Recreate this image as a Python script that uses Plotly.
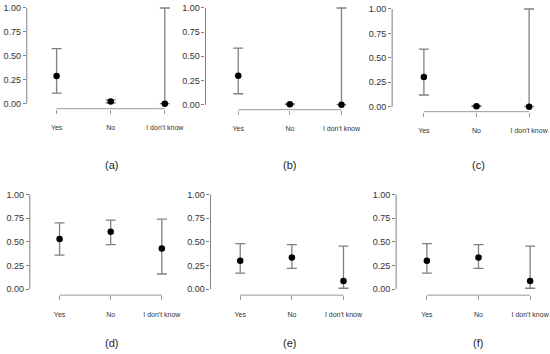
import plotly.graph_objects as go

categories = ["Yes", "No", "I don't know"]
panel_labels = ["(a)", "(b)", "(c)", "(d)", "(e)", "(f)"]

est_a = [0.29, 0.024, 0.0]
low_a = [0.11, 0.01, 0.0]
high_a = [0.576, 0.04, 1.0]

est_b = [0.30, 0.005, 0.0]
low_b = [0.113, 0.0, 0.0]
high_b = [0.585, 0.01, 1.0]

est_c = [0.305, 0.005, 0.0]
low_c = [0.12, 0.0, 0.0]
high_c = [0.59, 0.01, 1.0]

est_d = [0.53, 0.607, 0.43]
low_d = [0.36, 0.47, 0.16]
high_d = [0.70, 0.73, 0.74]

est_e = [0.30, 0.334, 0.087]
low_e = [0.17, 0.22, 0.01]
high_e = [0.48, 0.47, 0.455]

est_f = [0.30, 0.334, 0.087]
low_f = [0.17, 0.22, 0.01]
high_f = [0.48, 0.47, 0.455]

series = [(est_a, low_a, high_a), (est_b, low_b, high_b), (est_c, low_c, high_c),
          (est_d, low_d, high_d), (est_e, low_e, high_e), (est_f, low_f, high_f)]

W, H = 550, 354
# layout geometry (pixels): y-axis x, first cat x, last cat x, y=1 px, y=0 px, x-axis line px
geom = [
    (27, 57, 166, 7, 103, 108),
    (207, 240, 344, 7, 104, 109),
    (395, 427, 533, 8, 106, 111),
    (30, 60, 163, 194, 289, 295),
    (212, 242, 346, 194, 289, 295),
    (399, 430, 534, 194, 289, 295),
]
caption_pos = [(112, 164), (292, 164), (482, 164), (112, 343), (292, 343), (482, 343)]

fig = go.Figure()
shapes = []
annotations = []
axis_grey = "#9a9a9a"
font_fam = "Liberation Sans, Arial, sans-serif"

for i, ((est, lo, hi), (ax, x0, x2, y1, y0, xl)) in enumerate(zip(series, geom)):
    n = i + 1
    sfx = "" if n == 1 else str(n)
    sx = (x2 - x0) / 2.0
    sy = (y0 - y1)
    right_px = min(x2 + 0.3 * sx, W)
    xr0 = -(x0 - ax) / sx
    xr1 = 2 + (right_px - x2) / sx
    yr0 = -(xl - y0) / sy
    yr1 = 1.04
    dom_x = [ax / W, right_px / W]
    dom_y = [1 - xl / H, min(1.0, 1 - (y1 - 0.04 * sy) / H)]

    fig.add_trace(go.Scatter(
        x=[0, 1, 2], y=est, mode="markers",
        marker=dict(color="black", size=6.5),
        error_y=dict(type="data", symmetric=False,
                     array=[h - e for h, e in zip(hi, est)],
                     arrayminus=[e - l for e, l in zip(est, lo)],
                     color="#808080", thickness=1.3, width=5),
        xaxis="x" + sfx, yaxis="y" + sfx, showlegend=False, cliponaxis=False,
    ))
    fig.update_layout(**{
        "xaxis" + sfx: dict(domain=dom_x, range=[xr0, xr1], anchor="y" + sfx,
                            tickmode="array", tickvals=[0, 1, 2], ticktext=categories,
                            ticks="outside", ticklen=4, tickcolor=axis_grey, tickwidth=1,
                            showgrid=False, zeroline=False, showline=False,
                            ticklabelstandoff=8,
                            tickfont=dict(size=7, color="#333", family=font_fam)),
        "yaxis" + sfx: dict(domain=dom_y, range=[yr0, yr1], anchor="x" + sfx,
                            tickmode="array", tickvals=[0, 0.25, 0.5, 0.75, 1.0],
                            ticktext=["0.00", "0.25", "0.50", "0.75", "1.00"],
                            ticks="outside", ticklen=3, tickcolor="#808080", tickwidth=1,
                            showgrid=False, zeroline=False, showline=False,
                            tickfont=dict(size=9, color="#333", family=font_fam)),
    })
    xa = "x" + sfx
    ya = "y" + sfx
    shapes.append(dict(type="line", xref=xa + " domain", yref=ya, x0=0, x1=0, y0=0, y1=1,
                       line=dict(color="#808080", width=1)))
    shapes.append(dict(type="line", xref=xa, yref=ya + " domain", x0=0, x1=2, y0=0, y1=0,
                       line=dict(color=axis_grey, width=1)))
    cx, cy = caption_pos[i]
    annotations.append(dict(text=panel_labels[i], xref="paper", yref="paper",
                            x=cx / W, y=1 - cy / H, showarrow=False,
                            xanchor="center", yanchor="middle",
                            font=dict(size=11, color="#222", family=font_fam)))

fig.update_layout(width=W, height=H, margin=dict(l=0, r=0, t=0, b=0),
                  paper_bgcolor="white", plot_bgcolor="white",
                  shapes=shapes, annotations=annotations)
fig.write_html("out.html", config={"displayModeBar": False},
               post_script="document.body.style.margin='0';document.body.style.padding='0';")
